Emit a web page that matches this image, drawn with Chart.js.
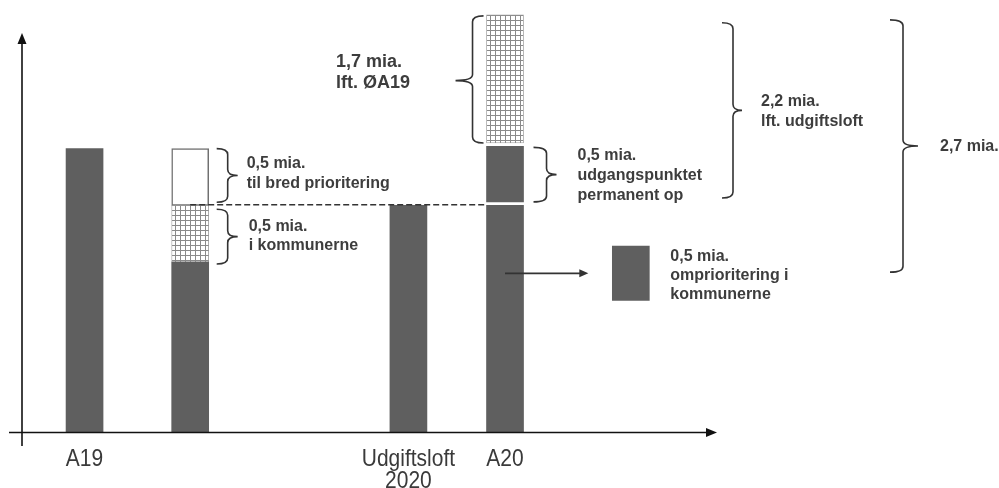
<!DOCTYPE html>
<html><head><meta charset="utf-8">
<script src="https://cdn.jsdelivr.net/npm/chart.js@4"></script>
<style>html,body{margin:0;padding:0;background:#fff}canvas{display:block}</style>
</head><body>
<canvas id="c" width="999" height="488"></canvas>
<script>
// ---- data ----
const categories = ['A19', '', 'Udgiftsloft\n2020', 'A20', ''];
const catPos = [0.9, 2.42, 5.56, 6.95, 8.76];           // column positions on the x scale
const baseValues    = [[0, 2.5], [0, 1.5], [0, 2.0], [0, 2.0], null];
const patternValues = [null, [1.5, 2.0], null, [2.55, 3.68], null];
const openValues    = [null, [2.0, 2.5], null, null, null];
const extraValues   = [null, null, null, [2.03, 2.52], [1.16, 1.64]];

const DARK = '#5f5f5f', INK = '#3d3d3d';

function makeGridPattern() {
  const t = document.createElement('canvas');
  t.width = 5; t.height = 5;
  const g = t.getContext('2d');
  g.fillStyle = '#fff'; g.fillRect(0, 0, 5, 5);
  g.fillStyle = '#8a8a8a';
  g.fillRect(0, 0, 5, 1); g.fillRect(0, 0, 1, 5);
  return g.createPattern(t, 'repeat');
}
const gridPattern = makeGridPattern();

function toPoints(vals) {
  return vals.map((v, i) => v ? { x: catPos[i], y: v } : null).filter(Boolean);
}

function brace(ctx, xe, xv, xt, yt, yb, ym) {
  if (ym === undefined) ym = (yt + yb) / 2;
  const r = 6;
  ctx.beginPath();
  ctx.moveTo(xe, yt);
  ctx.quadraticCurveTo(xv, yt, xv, yt + r);
  ctx.lineTo(xv, ym - r);
  ctx.quadraticCurveTo(xv, ym, xt, ym);
  ctx.quadraticCurveTo(xv, ym, xv, ym + r);
  ctx.lineTo(xv, yb - r);
  ctx.quadraticCurveTo(xv, yb, xe, yb);
  ctx.stroke();
}

function lines(ctx, x, yFirst, arr, lh, size) {
  ctx.font = 'bold ' + size + 'px "Liberation Sans", Arial, sans-serif';
  ctx.fillStyle = INK;
  ctx.textAlign = 'left';
  ctx.textBaseline = 'middle';
  arr.forEach((s, i) => ctx.fillText(s, x, yFirst + i * lh));
}

const annot = {
  id: 'annot',
  afterDatasetsDraw(chart) {
    const ctx = chart.ctx, xs = chart.scales.x, ys = chart.scales.y, ca = chart.chartArea;
    const X = v => xs.getPixelForValue(v), Y = v => ys.getPixelForValue(v);
    const half = 18.5;
    ctx.save();
    // axes
    ctx.strokeStyle = '#111'; ctx.fillStyle = '#111'; ctx.lineWidth = 1.6;
    ctx.beginPath(); ctx.moveTo(ca.left, ca.bottom + 14); ctx.lineTo(ca.left, ca.top + 8); ctx.stroke();
    ctx.beginPath(); ctx.moveTo(ca.left, ca.top); ctx.lineTo(ca.left - 4.5, ca.top + 11); ctx.lineTo(ca.left + 4.5, ca.top + 11); ctx.closePath(); ctx.fill();
    const yb = Y(0) + 0.5;
    ctx.beginPath(); ctx.moveTo(9, yb); ctx.lineTo(ca.right - 8, yb); ctx.stroke();
    ctx.beginPath(); ctx.moveTo(ca.right, yb); ctx.lineTo(ca.right - 11, yb - 4.5); ctx.lineTo(ca.right - 11, yb + 4.5); ctx.closePath(); ctx.fill();

    // tick labels (slightly tall, as in the reference)
    ctx.font = '21px "Liberation Sans", Arial, sans-serif';
    ctx.fillStyle = '#3a3a3a'; ctx.textAlign = 'center'; ctx.textBaseline = 'alphabetic';
    categories.forEach((c, i) => {
      if (!c) return;
      c.split('\n').forEach((s, k) => {
        ctx.save();
        ctx.translate(X(catPos[i]), ca.bottom + 34 + k * 22);
        ctx.scale(1, 1.18);
        ctx.fillText(s, 0, 0);
        ctx.restore();
      });
    });

    // dashed reference line at Udgiftsloft level
    ctx.strokeStyle = '#333'; ctx.lineWidth = 1.5; ctx.setLineDash([6, 3]);
    const yU = Y(baseValues[2][1]) - 0.5;
    ctx.beginPath(); ctx.moveTo(X(catPos[1]), yU); ctx.lineTo(X(catPos[3]) - half, yU); ctx.stroke();
    ctx.setLineDash([]);

    // arrow from A20 to extra box
    const yA = Y(1.40);
    ctx.strokeStyle = '#333'; ctx.fillStyle = '#333'; ctx.lineWidth = 1.8;
    const ax = X(catPos[4]) - half - 24;
    ctx.beginPath(); ctx.moveTo(X(catPos[3]), yA); ctx.lineTo(ax - 6, yA); ctx.stroke();
    ctx.beginPath(); ctx.moveTo(ax, yA); ctx.lineTo(ax - 9, yA - 4); ctx.lineTo(ax - 9, yA + 4); ctx.closePath(); ctx.fill();

    // braces
    ctx.strokeStyle = '#333'; ctx.lineWidth = 1.6;
    const b2 = X(catPos[1]) + half, a20L = X(catPos[3]) - half, a20R = X(catPos[3]) + half;
    brace(ctx, b2 + 8, b2 + 19, b2 + 29, Y(openValues[1][1]), Y(openValues[1][0]) - 3);
    brace(ctx, b2 + 8, b2 + 19, b2 + 29, Y(patternValues[1][1]) + 4, Y(patternValues[1][0]) + 2);
    brace(ctx, a20L - 3, a20L - 14, a20L - 31, Y(patternValues[3][1]) + 1, Y(patternValues[3][0]), Y(3.10));
    brace(ctx, a20R + 10, a20R + 23, a20R + 33, Y(extraValues[3][1]) + 1, Y(extraValues[3][0]));
    brace(ctx, 722, 733, 742, Y(3.61), Y(2.065));
    brace(ctx, 890, 903, 918, Y(3.636), Y(1.41));

    // labels
    const m1 = (Y(openValues[1][1]) + Y(openValues[1][0]) - 3) / 2;
    lines(ctx, b2 + 38, m1 - 12, ['0,5 mia.', 'til bred prioritering'], 20, 16);
    const m2 = (Y(patternValues[1][1]) + 4 + Y(patternValues[1][0]) + 2) / 2;
    lines(ctx, b2 + 40, m2 - 10, ['0,5 mia.', 'i kommunerne'], 19, 16);
    lines(ctx, 336, 62, ['1,7 mia.', 'lft. ØA19'], 21, 18);
    const m3 = (Y(extraValues[3][1]) + 1 + Y(extraValues[3][0])) / 2;
    lines(ctx, a20R + 54, m3 - 19, ['0,5 mia.', 'udgangspunktet', 'permanent op'], 20, 16);
    lines(ctx, 761, 102, ['2,2 mia.', 'lft. udgiftsloft'], 20, 16);
    lines(ctx, 940, 147, ['2,7 mia.'], 20, 16);
    lines(ctx, X(catPos[4]) + half + 21, Y(extraValues[4][1]) + 10, ['0,5 mia.', 'omprioritering i', 'kommunerne'], 19, 16);
    ctx.restore();
  }
};

const common = { grouped: false, barThickness: 37, clip: false, borderSkipped: false };
new Chart(document.getElementById('c'), {
  type: 'bar',
  data: {
    datasets: [
      Object.assign({ label: 'base', data: toPoints(baseValues), backgroundColor: DARK, borderWidth: 0 }, common),
      Object.assign({ label: 'pattern', data: toPoints(patternValues), backgroundColor: gridPattern, borderColor: '#999', borderWidth: 0.8 }, common),
      Object.assign({ label: 'open', data: toPoints(openValues), backgroundColor: '#fff', borderColor: '#707070', borderWidth: 1.5 }, common),
      Object.assign({ label: 'extra', data: toPoints(extraValues), backgroundColor: DARK, borderWidth: 0 }, common)
    ]
  },
  options: {
    responsive: false,
    devicePixelRatio: 1,
    animation: false,
    layout: { padding: { left: 22, right: 282, top: 33, bottom: 56 } },
    plugins: { legend: { display: false }, tooltip: { enabled: false } },
    scales: {
      x: { type: 'linear', display: false, min: 0, max: 10, offset: false },
      y: { display: false, min: 0, max: 3.52 }
    }
  },
  plugins: [annot]
});
</script>
</body></html>
